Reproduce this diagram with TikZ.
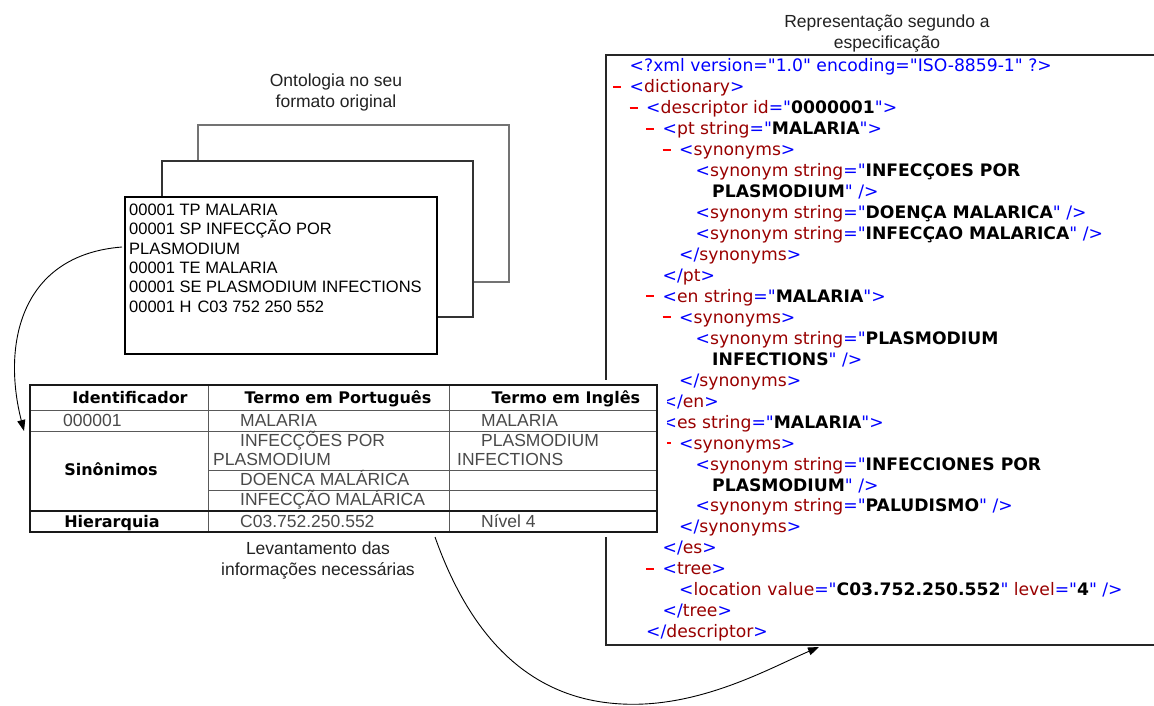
\documentclass[tikz,border=0pt]{standalone}
\usepackage{fontspec}
\setmainfont{Liberation Sans}
\newfontfamily\dvs[Ligatures=TeXOff]{DejaVu Sans}
\usetikzlibrary{arrows.meta}

\definecolor{xblue}{HTML}{0000FF}
\definecolor{xtag}{HTML}{990000}
\definecolor{xdash}{HTML}{FF0000}
\definecolor{cellgray}{HTML}{4A4A4A}
\definecolor{inkgray}{HTML}{222222}

% XML markup pieces: markup, tag/attribute name, value, collapse dash
\newcommand\xm[1]{\textcolor{xblue}{#1}}
\newcommand\xt[1]{\textcolor{xtag}{#1}}
\newcommand\xv[1]{\textbf{#1}}
\newcommand\xd{\makebox[16.5pt][l]{\textcolor{xdash}{\rule[5pt]{8pt}{2pt}}}}
% one XML line: index, indent level, content
\newcommand\XL[3]{\node[xl] (x#1) at ({613+16.5*#2},{72+20.95*(#1-1)}) {#3};}

\begin{document}
\begin{tikzpicture}[x=1pt,y=-1pt,
  page/.style={draw, fill=white, line width=1.2pt, inner sep=0pt},
  title/.style={align=center, anchor=north, inner sep=0pt, text=inkgray,
    font=\fontsize{17.5}{20.5}\selectfont},
  rawtext/.style={align=left, anchor=north west, inner sep=0pt,
    font=\fontsize{16.5}{19.4}\selectfont},
  xl/.style={anchor=base west, inner sep=0pt, font=\dvs\fontsize{17.2}{21}\selectfont},
  head/.style={anchor=base, inner sep=0pt, font=\dvs\bfseries\fontsize{16}{19}\selectfont},
  cell/.style={anchor=base west, inner sep=0pt, text=cellgray,
    font=\fontsize{17.5}{19}\selectfont},
  thin/.style={draw=black!65, line width=1pt},
  thick/.style={draw=black!90, line width=2pt},
  link/.style={draw, line width=0.9pt, -{Triangle[length=11pt,width=8pt]}}
]
\useasboundingbox (0,0) rectangle (1154,706);
\fill[white] (0,0) rectangle (1154,706);
\clip (0,0) rectangle (1154,706);

% ---- stacked source pages ----
\node[page, draw=black!55, minimum width=311, minimum height=157] (p3) at (353.5,203.5) {};
\node[page, draw=black!80, minimum width=311, minimum height=156] (p2) at (317.5,239) {};
\node[page, draw=black, minimum width=312, minimum height=157] (p1) at (281,275.5) {};
\node[rawtext] (raw) at (129,203.5)
  {00001 TP MALARIA\\00001 SP INFECÇÃO POR\\PLASMODIUM\\00001 TE MALARIA\\
   00001 SE PLASMODIUM INFECTIONS\\00001 H\hspace{6pt}C03 752 250 552};
\node[title] (t1) at (336,74) {Ontologia no seu\\formato original};

% ---- XML view ----
\draw[line width=2pt, draw=black!85] (606,55) rectangle (1160,645);
\node[title] (t3) at (887,15) {Representação segundo a\\especificação};
\XL{1}{1}{\xm{<?xml version="1.0" encoding="ISO-8859-1" ?>}}
\XL{2}{0}{\xd\xm{<}\xt{dictionary}\xm{>}}
\XL{3}{1}{\xd\xm{<}\xt{descriptor id}\xm{="}\xv{0000001}\xm{">}}
\XL{4}{2}{\xd\xm{<}\xt{pt string}\xm{="}\xv{MALARIA}\xm{">}}
\XL{5}{3}{\xd\xm{<}\xt{synonyms}\xm{>}}
\XL{6}{5}{\xm{<}\xt{synonym string}\xm{="}\xv{INFECÇOES POR}}
\XL{7}{6}{\xv{PLASMODIUM}\xm{" />}}
\XL{8}{5}{\xm{<}\xt{synonym string}\xm{="}\xv{DOENÇA MALARICA}\xm{" />}}
\XL{9}{5}{\xm{<}\xt{synonym string}\xm{="}\xv{INFECÇAO MALARICA}\xm{" />}}
\XL{10}{4}{\xm{</}\xt{synonyms}\xm{>}}
\XL{11}{3}{\xm{</}\xt{pt}\xm{>}}
\XL{12}{2}{\xd\xm{<}\xt{en string}\xm{="}\xv{MALARIA}\xm{">}}
\XL{13}{3}{\xd\xm{<}\xt{synonyms}\xm{>}}
\XL{14}{5}{\xm{<}\xt{synonym string}\xm{="}\xv{PLASMODIUM}}
\XL{15}{6}{\xv{INFECTIONS}\xm{" />}}
\XL{16}{4}{\xm{</}\xt{synonyms}\xm{>}}
\XL{17}{3}{\xm{</}\xt{en}\xm{>}}
\XL{18}{2}{\xd\xm{<}\xt{es string}\xm{="}\xv{MALARIA}\xm{">}}
\XL{19}{3}{\xd\xm{<}\xt{synonyms}\xm{>}}
\XL{20}{5}{\xm{<}\xt{synonym string}\xm{="}\xv{INFECCIONES POR}}
\XL{21}{6}{\xv{PLASMODIUM}\xm{" />}}
\XL{22}{5}{\xm{<}\xt{synonym string}\xm{="}\xv{PALUDISMO}\xm{" />}}
\XL{23}{4}{\xm{</}\xt{synonyms}\xm{>}}
\XL{24}{3}{\xm{</}\xt{es}\xm{>}}
\XL{25}{2}{\xd\xm{<}\xt{tree}\xm{>}}
\XL{26}{4}{\xm{<}\xt{location value}\xm{="}\xv{C03.752.250.552}\xm{"} \xt{level}\xm{="}\xv{4}\xm{" />}}
\XL{27}{3}{\xm{</}\xt{tree}\xm{>}}
\XL{28}{2}{\xm{</}\xt{descriptor}\xm{>}}

% ---- summary table (on a white card over the XML view) ----
\fill[white] (26,380) rectangle (667,537);
\draw[thin] (30,410) -- (657,410);
\draw[thin] (30,431) -- (657,431);
\draw[thin] (208,470) -- (657,470);
\draw[thin] (208,490) -- (657,490);
\draw[thin] (208,385) -- (208,532);
\draw[thin] (449,385) -- (449,532);
\draw[thick] (30,511) -- (657,511);
\draw[thick] (30,385) rectangle (657,532);

\node[head] (h1) at (130,403) {Identificador};
\node[head] (h2) at (338,403) {Termo em Português};
\node[head] (h3) at (566,403) {Termo em Inglês};
\node[cell] (c1) at (63,426) {000001};
\node[cell] (c2) at (240,426) {MALARIA};
\node[cell] (c3) at (481,426) {MALARIA};
\node[cell] (s2a) at (240,446) {INFECÇÕES POR};
\node[cell] (s2b) at (213,465) {PLASMODIUM};
\node[cell] (s3a) at (481,446) {PLASMODIUM};
\node[cell] (s3b) at (457,465) {INFECTIONS};
\node[head] (syn) at (111,475) {Sinônimos};
\node[cell] (d2) at (240,485) {DOENCA MALÁRICA};
\node[cell] (i2) at (240,505) {INFECÇÃO MALÁRICA};
\node[head] (hier) at (112,527) {Hierarquia};
\node[cell] (hc) at (240,527) {C03.752.250.552};
\node[cell] (hn) at (481,527) {Nível 4};
\node[title] (t2) at (318,542) {Levantamento das\\informações necessárias};

% ---- connectors ----
\coordinate (a1s) at (122,247);
\coordinate (a1e) at (24,431);
\coordinate (a2s) at (435,537);
\coordinate (a2m) at (622,704);
\coordinate (a2e) at (819,647);
\draw[link] (a1s) .. controls (20,255) and (2,345) .. (a1e);
\draw[link] (a2s) .. controls (475,650) and (540,700) .. (a2m)
  .. controls (700,708) and (770,668) .. (a2e);
\end{tikzpicture}
\end{document}
